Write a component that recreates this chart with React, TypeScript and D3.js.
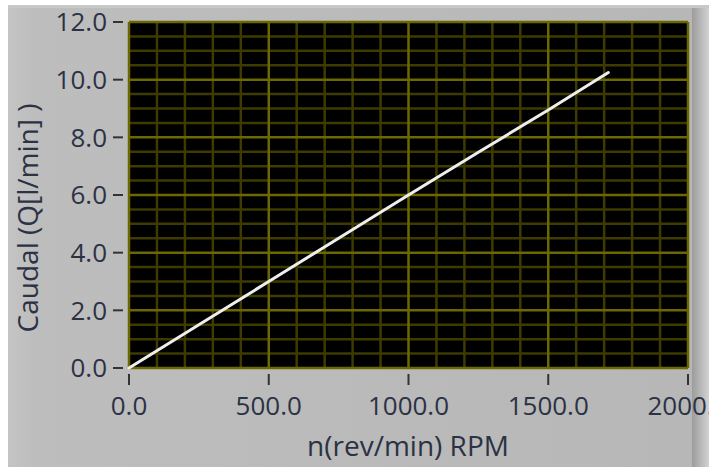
import { useRef, useEffect } from "react";
import * as d3 from "d3";

// readings (RPM -> l/min)
const rpm = [0, 250, 500, 750, 1000, 1250, 1500, 1715];
const caudal = [0, 1.5, 3.0, 4.5, 6.0, 7.48, 8.95, 10.25];
const xTicks = [0, 500, 1000, 1500, 2000];
const yTicks = [0, 2, 4, 6, 8, 10, 12];

const W = 709;
const H = 467;
const plot = { left: 129, top: 22, right: 688, bottom: 368 };

const App = () => {
  const svgRef = useRef<SVGSVGElement>(null);

  useEffect(() => {
    const svg = d3.select(svgRef.current);
    svg.selectAll("*").remove();

    const x = d3.scaleLinear().domain([0, 2000]).range([plot.left, plot.right]);
    const y = d3.scaleLinear().domain([0, 12]).range([plot.bottom, plot.top]);

    const defs = svg.append("defs");
    const bg = defs.append("linearGradient").attr("id", "bg-grad").attr("x1", "0%").attr("x2", "100%");
    bg.append("stop").attr("offset", "0%").attr("stop-color", "#c4c4c4");
    bg.append("stop").attr("offset", "4%").attr("stop-color", "#bdbdbd");
    bg.append("stop").attr("offset", "100%").attr("stop-color", "#b7b7b7");
    const edge = defs.append("linearGradient").attr("id", "edge-grad").attr("x1", "0%").attr("x2", "100%");
    edge.append("stop").attr("offset", "0%").attr("stop-color", "#9c9c9c");
    edge.append("stop").attr("offset", "100%").attr("stop-color", "#d2d2d2");

    svg.append("rect").attr("width", W).attr("height", H).attr("fill", "#ffffff");
    svg.append("rect").attr("x", 8).attr("y", 5).attr("width", W - 8).attr("height", H - 5).attr("fill", "url(#bg-grad)");
    svg.append("rect").attr("x", 8).attr("y", 5).attr("width", W - 8).attr("height", 3).attr("fill", "#c8c8c8");
    svg.append("rect").attr("x", 692).attr("y", 8).attr("width", 17).attr("height", H - 8).attr("fill", "url(#edge-grad)");

    // plot background
    svg
      .append("rect")
      .attr("x", plot.left)
      .attr("y", plot.top)
      .attr("width", plot.right - plot.left)
      .attr("height", plot.bottom - plot.top)
      .attr("fill", "#000000");

    const minorX = d3.range(0, 2001, 100).filter((d) => d % 500 !== 0);
    const minorY = d3.range(0, 12.01, 0.5).filter((d) => Math.abs(d % 2) > 1e-6);

    const grid = svg.append("g");
    grid
      .selectAll(".mx")
      .data(minorX)
      .enter()
      .append("line")
      .attr("x1", (d) => x(d))
      .attr("x2", (d) => x(d))
      .attr("y1", plot.top)
      .attr("y2", plot.bottom)
      .attr("stroke", "#3d3b00")
      .attr("stroke-width", 2.5);
    grid
      .selectAll(".my")
      .data(minorY)
      .enter()
      .append("line")
      .attr("x1", plot.left)
      .attr("x2", plot.right)
      .attr("y1", (d) => y(d))
      .attr("y2", (d) => y(d))
      .attr("stroke", "#3d3b00")
      .attr("stroke-width", 2.5);
    grid
      .selectAll(".Mx")
      .data(xTicks)
      .enter()
      .append("line")
      .attr("x1", (d) => x(d))
      .attr("x2", (d) => x(d))
      .attr("y1", plot.top)
      .attr("y2", plot.bottom)
      .attr("stroke", "#6b6800")
      .attr("stroke-width", 2.5);
    grid
      .selectAll(".My")
      .data(yTicks)
      .enter()
      .append("line")
      .attr("x1", plot.left)
      .attr("x2", plot.right)
      .attr("y1", (d) => y(d))
      .attr("y2", (d) => y(d))
      .attr("stroke", "#6b6800")
      .attr("stroke-width", 2.5);

    // data line
    const pts = rpm.map((r, i) => [r, caudal[i]] as [number, number]);
    svg
      .append("path")
      .datum(pts)
      .attr("fill", "none")
      .attr("stroke", "#eeeeee")
      .attr("stroke-width", 3)
      .attr("stroke-linecap", "round")
      .attr("d", d3.line().x((d) => x(d[0])).y((d) => y(d[1])));

    const textColor = "#2b3244";
    const font = "'Open Sans', 'DejaVu Sans', sans-serif";

    // x axis ticks + labels
    const xa = svg.append("g");
    xa.selectAll("line")
      .data(xTicks)
      .enter()
      .append("line")
      .attr("x1", (d) => x(d))
      .attr("x2", (d) => x(d))
      .attr("y1", 374)
      .attr("y2", 385)
      .attr("stroke", "#333")
      .attr("stroke-width", 2);
    xa.selectAll("text")
      .data(xTicks)
      .enter()
      .append("text")
      .attr("x", (d) => x(d))
      .attr("y", 415)
      .attr("text-anchor", "middle")
      .attr("font-family", font)
      .attr("font-size", 26)
      .attr("fill", textColor)
      .text((d) => d3.format(".1f")(d));

    // y axis ticks + labels
    const ya = svg.append("g");
    ya.selectAll("line")
      .data(yTicks)
      .enter()
      .append("line")
      .attr("x1", 113)
      .attr("x2", 123)
      .attr("y1", (d) => y(d))
      .attr("y2", (d) => y(d))
      .attr("stroke", "#333")
      .attr("stroke-width", 2);
    ya.selectAll("text")
      .data(yTicks)
      .enter()
      .append("text")
      .attr("x", 107)
      .attr("y", (d) => y(d))
      .attr("dy", "0.36em")
      .attr("text-anchor", "end")
      .attr("font-family", font)
      .attr("font-size", 26)
      .attr("fill", textColor)
      .text((d) => d3.format(".1f")(d));

    svg
      .append("text")
      .attr("x", 408)
      .attr("y", 456)
      .attr("text-anchor", "middle")
      .attr("font-family", font)
      .attr("font-size", 28)
      .attr("fill", textColor)
      .text("n(rev/min) RPM");

    svg
      .append("text")
      .attr("transform", "translate(38,218) rotate(-90)")
      .attr("text-anchor", "middle")
      .attr("font-family", font)
      .attr("font-size", 28)
      .attr("fill", textColor)
      .text("Caudal (Q[l/min] )");
  }, []);

  return (
    <div style={{ position: "fixed", left: 0, top: 0 }}>
      <svg ref={svgRef} width={W} height={H} style={{ display: "block" }}></svg>
    </div>
  );
};

export default App;
